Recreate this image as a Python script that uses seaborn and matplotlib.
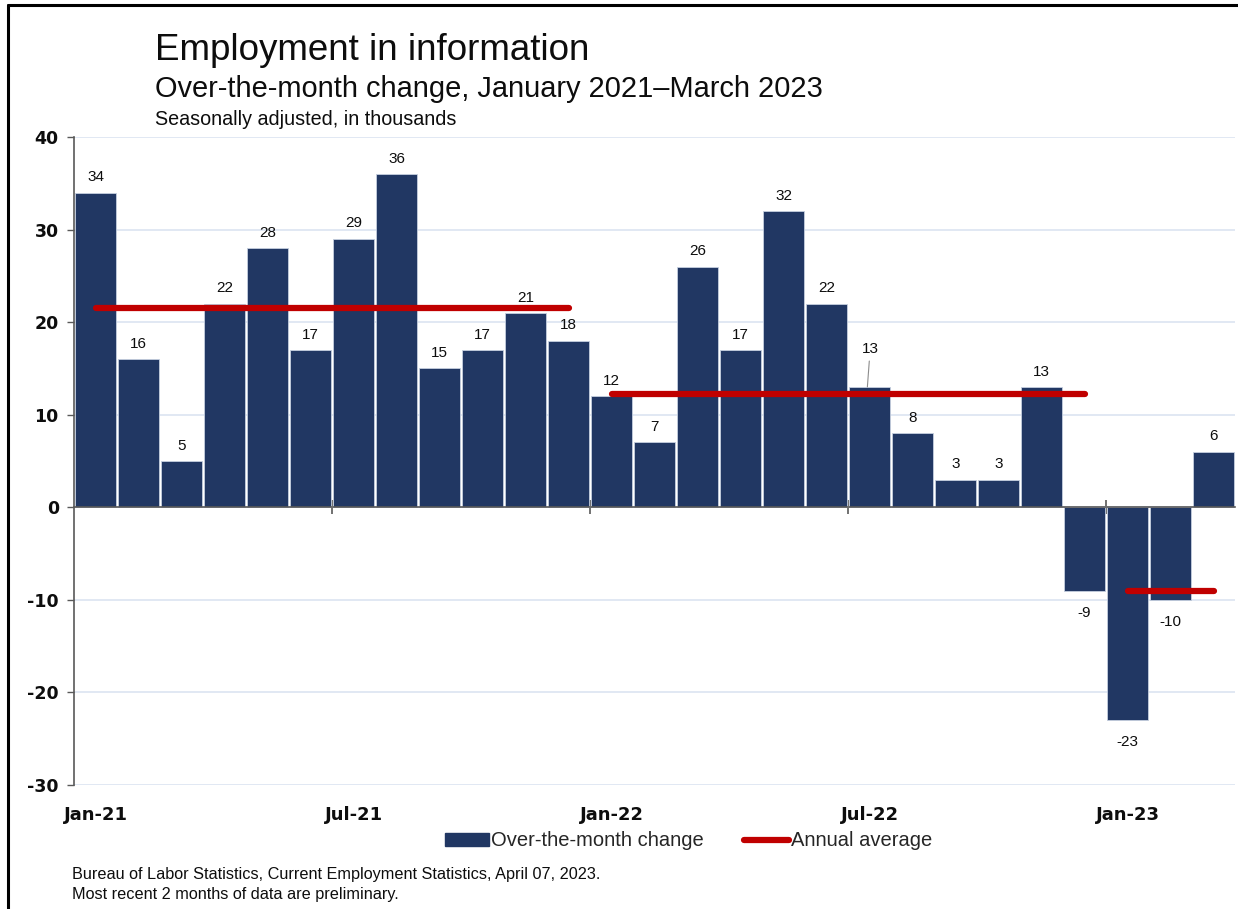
import matplotlib
matplotlib.use("Agg")
import matplotlib.pyplot as plt
from matplotlib.lines import Line2D
from matplotlib.patches import Patch
import seaborn as sns
import pandas as pd

# Over-the-month change in information employment, thousands (SA)
months = [
    "Jan-21", "Feb-21", "Mar-21", "Apr-21", "May-21", "Jun-21",
    "Jul-21", "Aug-21", "Sep-21", "Oct-21", "Nov-21", "Dec-21",
    "Jan-22", "Feb-22", "Mar-22", "Apr-22", "May-22", "Jun-22",
    "Jul-22", "Aug-22", "Sep-22", "Oct-22", "Nov-22", "Dec-22",
    "Jan-23", "Feb-23", "Mar-23",
]
changes = [34, 16, 5, 22, 28, 17, 29, 36, 15, 17, 21, 18,
           12, 7, 26, 17, 32, 22, 13, 8, 3, 3, 13, -9,
           -23, -10, 6]

# Annual averages and the months each one spans
avg_years = ["2021", "2022", "2023"]
avg_values = [21.5, 12.25, -9.0]
avg_first = ["Jan-21", "Jan-22", "Jan-23"]
avg_last = ["Dec-21", "Dec-22", "Mar-23"]

axis_labels = ["Jan-21", "Jul-21", "Jan-22", "Jul-22", "Jan-23"]
y_ticks = [-30, -20, -10, 0, 10, 20, 30, 40]

BAR = "#213763"
RED = "#c00000"
GRID = "#dbe4f1"
AXIS = "#595959"
INK = "#0d0d0d"

sns.set_style("white")
plt.rcParams["font.family"] = ["Liberation Sans", "DejaVu Sans"]

fig = plt.figure(figsize=(12.38, 9.09), dpi=100)
ax = fig.add_axes([0.0598, 0.1364, 0.9378, 0.7129])

df = pd.DataFrame({"month": months, "change": changes})
sns.barplot(data=df, x="month", y="change", order=months, color=BAR,
            saturation=1, width=0.95, edgecolor="#c5cfdf", linewidth=0.6,
            ax=ax)

pos = {m: i for i, m in enumerate(months)}

# annual average segments
for yr, v, a, b in zip(avg_years, avg_values, avg_first, avg_last):
    ax.plot([pos[a], pos[b]], [v, v], color=RED, lw=4.5,
            solid_capstyle="round", zorder=4)

# value labels
lifted = {"Jul-22": 22}
for m, v in zip(months, changes):
    i = pos[m]
    if v >= 0:
        if m in lifted:
            ax.annotate(str(v), xy=(i - 0.05, v), xytext=(2, lifted[m]),
                        textcoords="offset points", ha="center", va="bottom",
                        fontsize=11, color=INK,
                        arrowprops=dict(arrowstyle="-", color="#8c8c8c",
                                        lw=0.8, shrinkA=1, shrinkB=0))
        else:
            ax.annotate(str(v), xy=(i, v), xytext=(0, 6),
                        textcoords="offset points", ha="center", va="bottom",
                        fontsize=11, color=INK)
    else:
        ax.annotate(str(v), xy=(i, v), xytext=(0, -11),
                    textcoords="offset points", ha="center", va="top",
                    fontsize=11, color=INK)

ax.set_xlim(-0.5, len(months) - 0.5)
ax.set_ylim(-30, 40)
ax.set_yticks(y_ticks)
ax.set_yticklabels([str(t) for t in y_ticks], fontsize=12.5,
                   fontweight="bold", family="DejaVu Sans", color=INK)
ax.tick_params(axis="y", length=5, width=1, color=AXIS, pad=6, left=True)

ax.yaxis.grid(True, color=GRID, lw=1.2)
ax.xaxis.grid(False)
ax.set_axisbelow(True)

for s in ("top", "right"):
    ax.spines[s].set_visible(False)
ax.spines["left"].set_color(AXIS)
ax.spines["left"].set_linewidth(1.2)
ax.spines["bottom"].set_position(("data", 0))
ax.spines["bottom"].set_color(AXIS)
ax.spines["bottom"].set_linewidth(1.2)
ax.spines["bottom"].set_zorder(5)

# half-year boundary ticks on the zero line
bounds = [pos[m] - 0.5 for m in axis_labels[1:]]
ax.set_xticks(bounds)
ax.set_xticklabels([""] * len(bounds))
ax.tick_params(axis="x", direction="inout", length=10, width=1.2,
               color=AXIS, bottom=True)
ax.set_xlabel("")
ax.set_ylabel("")

for m in axis_labels:
    ax.text(pos[m], -0.032, m, transform=ax.get_xaxis_transform(),
            ha="center", va="top", fontsize=13, fontweight="bold",
            family="DejaVu Sans", color=INK)

# titles
fig.text(0.125, 0.934, "Employment in information", fontsize=26.5,
         color=INK, va="baseline")
fig.text(0.125, 0.893, "Over-the-month change, January 2021\u2013March 2023",
         fontsize=20.9, color=INK, va="baseline")
fig.text(0.125, 0.862, "Seasonally adjusted, in thousands", fontsize=14.2,
         color=INK, va="baseline")

# legend
handles = [Patch(facecolor=BAR, edgecolor=BAR),
           Line2D([0], [0], color=RED, lw=4.5, solid_capstyle="round")]
fig.legend(handles, ["Over-the-month change", "Annual average"],
           loc="center", bbox_to_anchor=(0.556, 0.075), ncol=2,
           frameon=False, fontsize=14.5, handlelength=2.2,
           handleheight=0.6, handletextpad=0.1, columnspacing=2.0)

# source notes
fig.text(0.058, 0.033,
         "Bureau of Labor Statistics, Current Employment Statistics, April 07, 2023.",
         fontsize=11.7, color=INK, va="baseline")
fig.text(0.058, 0.011, "Most recent 2 months of data are preliminary.",
         fontsize=11.7, color=INK, va="baseline")

# outer frame (top and left edges)
fig.add_artist(Line2D([0.0065, 1.0], [0.9945, 0.9945], transform=fig.transFigure,
                      color="black", lw=2.2))
fig.add_artist(Line2D([0.0065, 0.0065], [0.0, 0.9945], transform=fig.transFigure,
                      color="black", lw=2.2))

fig.savefig("out.png", dpi=100)
